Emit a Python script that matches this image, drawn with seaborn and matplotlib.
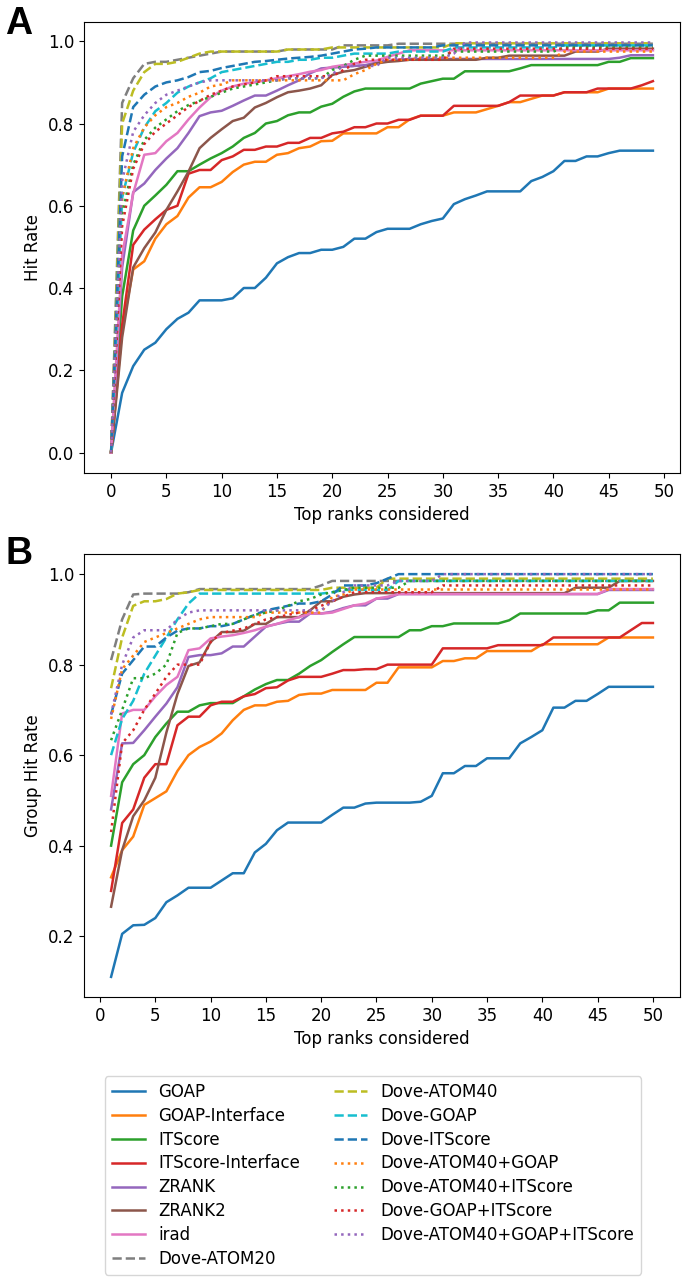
import matplotlib
matplotlib.use("Agg")
import matplotlib.pyplot as plt
import seaborn as sns

# x positions
ranks_a = list(range(0, 50))
ranks_b = list(range(1, 51))

names = ["GOAP", "GOAP-Interface", "ITScore", "ITScore-Interface", "ZRANK", "ZRANK2", "irad",
         "Dove-ATOM20", "Dove-ATOM40", "Dove-GOAP", "Dove-ITScore",
         "Dove-ATOM40+GOAP", "Dove-ATOM40+ITScore", "Dove-GOAP+ITScore", "Dove-ATOM40+GOAP+ITScore"]

# Panel A: hit rate, ranks 0..49
goap_a = [0, 0.145, 0.21, 0.25, 0.267, 0.30, 0.325, 0.34, 0.37, 0.37,
          0.37, 0.375, 0.40, 0.40, 0.425, 0.46, 0.475, 0.485, 0.485, 0.493,
          0.493, 0.50, 0.52, 0.52, 0.536, 0.544, 0.544, 0.544, 0.555, 0.563,
          0.569, 0.604, 0.616, 0.625, 0.635, 0.635, 0.635, 0.635, 0.66, 0.67,
          0.684, 0.709, 0.709, 0.72, 0.72, 0.728, 0.734, 0.734, 0.734, 0.734]
goap_int_a = [0, 0.30, 0.445, 0.465, 0.52, 0.555, 0.575, 0.62, 0.645, 0.645,
              0.658, 0.682, 0.70, 0.707, 0.707, 0.724, 0.728, 0.74, 0.744, 0.757,
              0.758, 0.776, 0.776, 0.776, 0.776, 0.791, 0.791, 0.81, 0.819, 0.819,
              0.819, 0.827, 0.827, 0.827, 0.835, 0.843, 0.852, 0.852, 0.86, 0.868,
              0.868, 0.876, 0.876, 0.876, 0.876, 0.885, 0.885, 0.885, 0.885, 0.885]
itscore_a = [0, 0.38, 0.54, 0.60, 0.625, 0.651, 0.684, 0.684, 0.70, 0.715,
             0.728, 0.744, 0.765, 0.777, 0.80, 0.806, 0.82, 0.827, 0.827, 0.841,
             0.848, 0.865, 0.878, 0.885, 0.885, 0.885, 0.885, 0.885, 0.897, 0.903,
             0.909, 0.909, 0.927, 0.927, 0.927, 0.927, 0.927, 0.934, 0.942, 0.942,
             0.942, 0.942, 0.942, 0.942, 0.942, 0.95, 0.95, 0.959, 0.959, 0.959]
itscore_int_a = [0, 0.31, 0.505, 0.542, 0.567, 0.59, 0.60, 0.678, 0.687, 0.687,
                 0.711, 0.72, 0.736, 0.736, 0.744, 0.744, 0.753, 0.753, 0.765, 0.765,
                 0.776, 0.78, 0.791, 0.791, 0.80, 0.80, 0.809, 0.809, 0.819, 0.819,
                 0.819, 0.843, 0.843, 0.843, 0.843, 0.843, 0.852, 0.868, 0.868, 0.868,
                 0.868, 0.876, 0.876, 0.876, 0.885, 0.885, 0.885, 0.885, 0.893, 0.903]
zrank_a = [0, 0.45, 0.633, 0.654, 0.687, 0.715, 0.74, 0.777, 0.818, 0.827,
           0.831, 0.843, 0.856, 0.868, 0.868, 0.88, 0.893, 0.905, 0.922, 0.934,
           0.936, 0.938, 0.94, 0.942, 0.948, 0.952, 0.955] + [0.957] * 19 + [0.96, 0.966, 0.966, 0.966]
zrank2_a = [0, 0.28, 0.45, 0.497, 0.535, 0.59, 0.635, 0.683, 0.74, 0.765,
            0.786, 0.806, 0.814, 0.839, 0.85, 0.864, 0.876, 0.88, 0.885, 0.893,
            0.918, 0.926, 0.93, 0.938, 0.946, 0.95, 0.952, 0.955, 0.955, 0.955,
            0.955, 0.955, 0.955, 0.955, 0.96, 0.96, 0.965, 0.965, 0.965, 0.965,
            0.965, 0.965, 0.975, 0.975, 0.975, 0.982, 0.982, 0.982, 0.982, 0.982]
irad_a = [0, 0.48, 0.63, 0.724, 0.728, 0.757, 0.777, 0.81, 0.839, 0.864,
          0.88, 0.89, 0.897, 0.90, 0.905, 0.91, 0.915, 0.92, 0.926, 0.93,
          0.938, 0.942, 0.946, 0.95, 0.953, 0.962, 0.97] + [0.978] * 23
dove20_a = [0, 0.85, 0.91, 0.945, 0.95, 0.95, 0.955, 0.96, 0.965, 0.97] + [0.975] * 6 + [0.98] * 5 + [0.99] * 5 + [0.994] * 24
dove40_a = [0, 0.80, 0.88, 0.925, 0.945, 0.945, 0.95, 0.96, 0.97, 0.975] + [0.975] * 6 + [0.98] * 4 + [0.985] * 11 + [0.995] * 19
dove_goap_a = [0, 0.62, 0.73, 0.79, 0.83, 0.85, 0.875, 0.89, 0.90, 0.91,
               0.925, 0.93, 0.935, 0.94, 0.945, 0.95, 0.95, 0.955, 0.955, 0.96,
               0.96, 0.965, 0.97, 0.97, 0.97, 0.97, 0.975, 0.975, 0.975, 0.975,
               0.975] + [0.985] * 10 + [0.99] * 9
dove_its_a = [0, 0.72, 0.84, 0.87, 0.89, 0.90, 0.905, 0.913, 0.925, 0.928,
              0.935, 0.94, 0.945, 0.95, 0.952, 0.955, 0.958, 0.96, 0.962, 0.965,
              0.97, 0.975, 0.98, 0.982] + [0.985] * 6 + [0.99] * 20
d40_goap_a = [0, 0.62, 0.74, 0.79, 0.82, 0.84, 0.85, 0.865, 0.875, 0.89,
              0.895] + [0.905] * 11 + [0.92, 0.93, 0.945, 0.955, 0.955, 0.955] + [0.96] * 13 + [0.975] * 9
d40_its_a = [0, 0.58, 0.70, 0.76, 0.79, 0.81, 0.83, 0.845, 0.855, 0.865,
             0.875, 0.885, 0.89, 0.895, 0.90, 0.905, 0.91, 0.91, 0.91, 0.91,
             0.93, 0.94, 0.955] + [0.965] * 8 + [0.975] * 10 + [0.985] * 9
dgoap_its_a = [0, 0.55, 0.69, 0.75, 0.78, 0.80, 0.82, 0.84, 0.855, 0.87,
               0.88, 0.89, 0.895, 0.90, 0.905] + [0.915] * 6 + [0.93, 0.945] + [0.955] * 8 + [0.982] * 19
d40_all_a = [0, 0.66, 0.78, 0.82, 0.85, 0.87, 0.88, 0.89, 0.90] + [0.905] * 7 + [0.91] * 4 + [0.92] + [0.94] * 4 + [0.96] * 6 + [0.97] + [0.997] * 18

# Panel B: group hit rate, ranks 1..50
goap_b = [0.11, 0.205, 0.224, 0.225, 0.24, 0.275, 0.29, 0.307, 0.307, 0.307,
          0.323, 0.339, 0.339, 0.385, 0.404, 0.434, 0.451, 0.451, 0.451, 0.451,
          0.468, 0.484, 0.484, 0.493, 0.495, 0.495, 0.495, 0.495, 0.497, 0.51,
          0.56, 0.56, 0.576, 0.576, 0.593, 0.593, 0.593, 0.626, 0.64, 0.655,
          0.705, 0.705, 0.72, 0.72, 0.735, 0.751, 0.751, 0.751, 0.751, 0.751]
goap_int_b = [0.33, 0.39, 0.42, 0.49, 0.505, 0.52, 0.565, 0.60, 0.618, 0.63,
              0.648, 0.677, 0.70, 0.71, 0.71, 0.718, 0.72, 0.733, 0.736, 0.736,
              0.744, 0.744, 0.744, 0.744, 0.76, 0.76, 0.794, 0.794, 0.794, 0.794,
              0.808, 0.808, 0.814, 0.814, 0.83, 0.83, 0.83, 0.83, 0.83, 0.845,
              0.845, 0.845, 0.845, 0.845, 0.845, 0.86, 0.86, 0.86, 0.86, 0.86]
itscore_b = [0.40, 0.54, 0.58, 0.60, 0.64, 0.67, 0.696, 0.696, 0.71, 0.715,
             0.715, 0.715, 0.73, 0.745, 0.757, 0.766, 0.766, 0.78, 0.797, 0.81,
             0.828, 0.845, 0.861, 0.861, 0.861, 0.861, 0.861, 0.876, 0.876, 0.885,
             0.885, 0.891, 0.891, 0.891, 0.891, 0.891, 0.898, 0.913, 0.913, 0.913,
             0.913, 0.913, 0.913, 0.913, 0.92, 0.92, 0.937, 0.937, 0.937, 0.937]
itscore_int_b = [0.30, 0.45, 0.48, 0.55, 0.58, 0.58, 0.666, 0.685, 0.685, 0.71,
                 0.718, 0.718, 0.73, 0.735, 0.748, 0.75, 0.765, 0.773, 0.773, 0.773,
                 0.78, 0.788, 0.788, 0.79, 0.79, 0.80, 0.80, 0.80, 0.80, 0.80,
                 0.836, 0.836, 0.836, 0.836, 0.836, 0.843, 0.843, 0.843, 0.843, 0.843,
                 0.86, 0.86, 0.86, 0.86, 0.86, 0.86, 0.86, 0.876, 0.892, 0.892]
zrank_b = [0.48, 0.626, 0.627, 0.655, 0.685, 0.714, 0.75, 0.817, 0.821, 0.821,
           0.825, 0.84, 0.84, 0.862, 0.884, 0.89, 0.895, 0.895, 0.913, 0.913,
           0.917, 0.925, 0.931, 0.931, 0.946, 0.946] + [0.956] * 19 + [0.965] * 5
zrank2_b = [0.265, 0.39, 0.465, 0.50, 0.55, 0.65, 0.735, 0.797, 0.805, 0.85,
            0.872, 0.872, 0.875, 0.89, 0.89, 0.905, 0.905, 0.905, 0.92, 0.94,
            0.94, 0.95, 0.955] + [0.958] * 19 + [0.97] * 4 + [0.985] * 4
irad_b = [0.51, 0.692, 0.70, 0.70, 0.73, 0.755, 0.773, 0.832, 0.836, 0.858,
          0.862, 0.865, 0.87, 0.876, 0.884, 0.89, 0.898, 0.905, 0.913, 0.913,
          0.915, 0.923, 0.931, 0.935, 0.946, 0.95] + [0.956] * 19 + [0.967] * 5
dove20_b = [0.81, 0.90, 0.955, 0.957, 0.957, 0.957, 0.957, 0.96] + [0.967] * 11 + [0.975] + [0.985] * 30
dove40_b = [0.748, 0.86, 0.93, 0.94, 0.94, 0.945, 0.957, 0.96] + [0.965] * 12 + [0.97] * 5 + [0.99] * 25
dove_goap_b = [0.60, 0.68, 0.72, 0.78, 0.82, 0.86, 0.90, 0.935] + [0.957] * 12 + [0.96] + [0.965] * 5 + [0.985] * 24
dove_its_b = [0.69, 0.78, 0.81, 0.84, 0.84, 0.86, 0.875, 0.88, 0.88, 0.885,
              0.885, 0.89, 0.90, 0.91, 0.92, 0.925, 0.93, 0.935, 0.935, 0.94,
              0.955, 0.975, 0.975, 0.975, 0.98, 0.99] + [1.0] * 24
d40_goap_b = [0.68, 0.79, 0.82, 0.85, 0.86, 0.87, 0.88, 0.89, 0.90] + [0.905] * 5 + [0.915] * 6 + [0.95, 0.955] + [0.966] * 28
d40_its_b = [0.633, 0.70, 0.77, 0.77, 0.78, 0.80, 0.87, 0.88, 0.88, 0.885,
             0.89, 0.89, 0.90, 0.91, 0.915, 0.92, 0.93, 0.94, 0.945, 0.955,
             0.96, 0.965] + [0.97] * 5 + [0.985] * 23
dgoap_its_b = [0.43, 0.626, 0.655, 0.70, 0.736, 0.773, 0.80, 0.80, 0.80, 0.85,
               0.87, 0.875, 0.88, 0.89, 0.90, 0.905, 0.91, 0.915, 0.92, 0.93,
               0.94, 0.95] + [0.96] * 8 + [0.975] * 20
d40_all_b = [0.69, 0.80, 0.86, 0.876, 0.876, 0.876, 0.90, 0.915] + [0.92] * 12 + [0.94, 0.96] + [0.975] * 4 + [0.985] * 4 + [1.0] * 20

series_a = [goap_a, goap_int_a, itscore_a, itscore_int_a, zrank_a, zrank2_a, irad_a,
            dove20_a, dove40_a, dove_goap_a, dove_its_a,
            d40_goap_a, d40_its_a, dgoap_its_a, d40_all_a]
series_b = [goap_b, goap_int_b, itscore_b, itscore_int_b, zrank_b, zrank2_b, irad_b,
            dove20_b, dove40_b, dove_goap_b, dove_its_b,
            d40_goap_b, d40_its_b, dgoap_its_b, d40_all_b]

pal = sns.color_palette("tab10")
colors = [pal[i % 10] for i in range(15)]
styles = ["-"] * 7 + ["--"] * 4 + [":"] * 4

plt.rcParams["font.family"] = ["DejaVu Sans"]
plt.rcParams["font.size"] = 12

fig = plt.figure(figsize=(6.87, 12.82), dpi=100)
ax_a = fig.add_axes([84 / 687, 1 - 473 / 1282, 596 / 687, 451 / 1282])
ax_b = fig.add_axes([84 / 687, 1 - 997 / 1282, 596 / 687, 443 / 1282])

for ax, xs, data in [(ax_a, ranks_a, series_a), (ax_b, ranks_b, series_b)]:
    for name, vals, c, ls in zip(names, data, colors, styles):
        sns.lineplot(x=xs, y=vals, ax=ax, color=c, linestyle=ls, linewidth=1.8, label=name)
    if ax.get_legend() is not None:
        ax.get_legend().remove()
    ax.set_xticks(range(0, 51, 5))
    ax.set_xlabel("Top ranks considered", fontsize=12)
    ax.tick_params(labelsize=12)

ax_a.set_yticks([0.0, 0.2, 0.4, 0.6, 0.8, 1.0])
ax_a.set_ylabel("Hit Rate", fontsize=12)
ax_b.set_yticks([0.2, 0.4, 0.6, 0.8, 1.0])
ax_b.set_ylabel("Group Hit Rate", fontsize=12)

fig.text(0.008, 1 - 6 / 1282, "A", fontsize=27, fontweight="bold", va="top", family=["Liberation Sans", "DejaVu Sans"])
fig.text(0.008, 1 - 536 / 1282, "B", fontsize=27, fontweight="bold", va="top", family=["Liberation Sans", "DejaVu Sans"])

handles, labels = ax_b.get_legend_handles_labels()
fig.legend(handles, labels, loc="upper center", bbox_to_anchor=(373 / 687, 1 - 1068 / 1282),
           ncol=2, labelspacing=0.35, fontsize=12)

fig.savefig("out.png", dpi=100)
